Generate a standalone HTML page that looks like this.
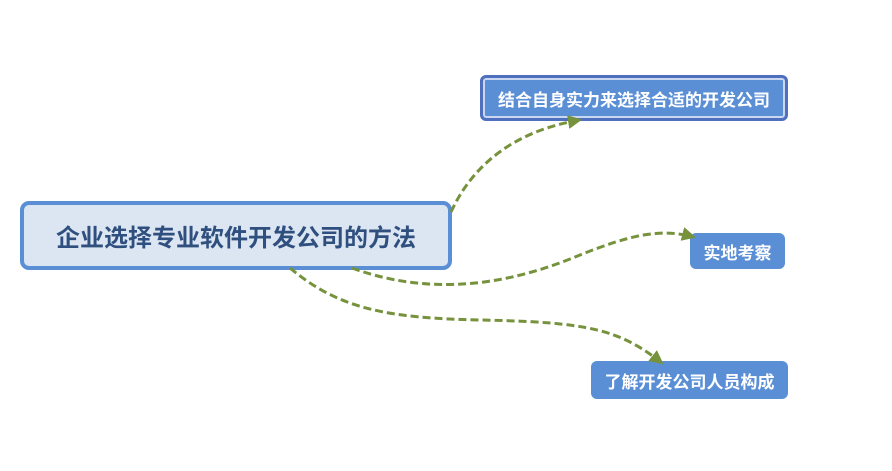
<!DOCTYPE html>
<html><head><meta charset="utf-8"><style>
body{margin:0;width:892px;height:471px;background:#fff;position:relative;overflow:hidden;font-family:"Liberation Sans","Noto Sans CJK SC",sans-serif;font-weight:bold}
.b{position:absolute;box-sizing:border-box;display:flex;align-items:center;justify-content:center;color:#fff;border-radius:6px;background:#5b8fd5;white-space:nowrap}
svg{z-index:2}
</style></head><body>
<div class="b" style="left:20px;top:201px;width:432px;height:69px;background:#dce6f2;border:4px solid #5b8fd5;border-radius:9px;color:#2f4f7f;font-size:24px">企业选择专业软件开发公司的方法</div>
<div class="b" style="left:480px;top:75px;width:308px;height:46px;border:3px solid #4f6fbf;box-shadow:inset 0 0 0 2px #c9d8f0;font-size:17px">结合自身实力来选择合适的开发公司</div>
<div class="b" style="left:690px;top:233px;width:95px;height:36px;font-size:17px">实地考察</div>
<div class="b" style="left:591px;top:361px;width:197px;height:38px;font-size:17px">了解开发公司人员构成</div>
<svg width="892" height="471" style="position:absolute;left:0;top:0">
<defs><marker id="a" markerWidth="14" markerHeight="14" refX="12" refY="7" orient="auto" markerUnits="userSpaceOnUse"><path d="M0,0 L14,7 L0,14 z" fill="#76923c"/></marker></defs>
<g fill="none" stroke="#76923c" stroke-width="3" stroke-dasharray="8,4">
<path d="M451,212 C475,160 520,130 580,120" marker-end="url(#a)"/>
<path d="M352,268 C440,300 520,280 580,255 C630,235 660,228 694,237" marker-end="url(#a)"/>
<path d="M290,268 C340,310 390,318 480,320 C590,322 620,330 662,363" marker-end="url(#a)"/>
</g></svg>
</body></html>
